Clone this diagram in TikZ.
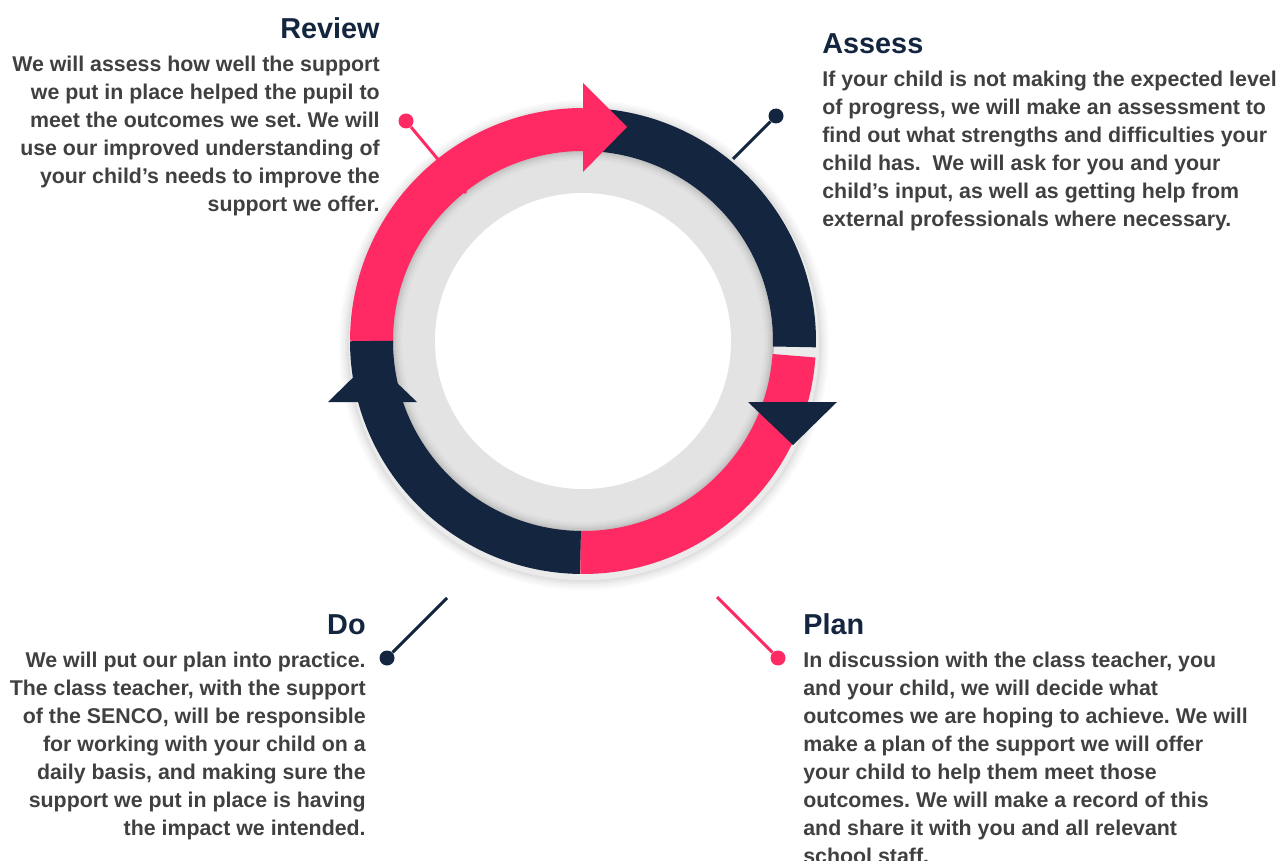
\documentclass[tikz,border=0pt]{standalone}
\usepackage{fontspec}
\setmainfont{Liberation Sans}
\usepackage{xcolor}
\usepackage{tikz}
\usetikzlibrary{positioning}

\definecolor{pinkred}{HTML}{FF2A63}
\definecolor{navy}{HTML}{14253F}
\definecolor{bodygray}{HTML}{404040}

\tikzset{
  head/.style={font=\fontsize{16.4}{19}\selectfont\bfseries, text=navy, inner sep=0pt},
  body/.style={font=\fontsize{12.15}{15.9}\selectfont\bfseries\frenchspacing, text=bodygray, inner sep=0pt},
  band/.style={line width=0.86cm},
  pindot/.style={circle, inner sep=0pt, minimum size=0.3cm},
  pinline/.style={line width=1.7pt},
}

\begin{document}
\begin{tikzpicture}[x=0.02cm, y=0.02cm]
    \useasboundingbox (0,0) rectangle (1277,-861);
    \clip (0,0) rectangle (1277,-861);
    \coordinate (c) at (583,-341);
    \coordinate (cs) at (584,-345);

    % RING: SHADOW AND GREY
    \foreach \r/\s in {245/2, 243/4, 241/6, 239/9, 237/12, 235/8}
        \fill[black!\s] (cs) circle[radius=\r];
    \foreach \r/\s in {191/26, 189/22, 187/18, 185/15, 183/13, 181/11}
        \fill[black!\s] (c) circle[radius=\r];
    \fill[white] (c) circle[radius=148];

    % REVIEW PIN (under the ring)
    \node (reviewdot) [pindot, fill=pinkred] at (406,-121) {};
    \coordinate (reviewend) at (466,-193);
    \draw[pinline, pinkred] (reviewdot) -- (reviewend);

    % RING: BANDS AND ARROWHEADS
    \draw[band, navy] (c) ++(90:211.5) arc[start angle=90, end angle=-1.6, radius=211.5];
    \draw[band, pinkred] (c) ++(180:211.5) arc[start angle=180, end angle=90, radius=211.5];
    \fill[pinkred] (583,-83) -- (627,-127) -- (583,-172) -- cycle;
    \draw[band, pinkred] (c) ++(-4:211.5) arc[start angle=-4, end angle=-90.7, radius=211.5];
    \fill[navy] (748,-402) -- (837,-402) -- (793,-445) -- cycle;
    \draw[band, navy] (c) ++(-90.7:211.5) arc[start angle=-90.7, end angle=-180, radius=211.5];
    \fill[navy] (328,-402) -- (417,-402) -- (372,-359) -- cycle;

    % OTHER PINS
    \node (assessdot) [pindot, fill=navy] at (776,-116) {};
    \coordinate (assessend) at (733,-159);
    \draw[pinline, navy] (assessdot) -- (assessend);
    \node (dodot) [pindot, fill=navy] at (387,-658) {};
    \coordinate (doend) at (447,-598);
    \draw[pinline, navy] (dodot) -- (doend);
    \node (plandot) [pindot, fill=pinkred] at (778,-658) {};
    \coordinate (planend) at (717,-597);
    \draw[pinline, pinkred] (plandot) -- (planend);

    % TOP LEFT: REVIEW
    \node (reviewhead) [head, anchor=north east] at (380,-17) {Review};
    \node (reviewtext) [body, align=right, below=0.34cm of reviewhead.south east, anchor=north east]
        {We will assess how well the support\\
         we put in place helped the pupil to\\
         meet the outcomes we set. We will\\
         use our improved understanding of\\
         your child’s needs to improve the\\
         support we offer.};

    % TOP RIGHT: ASSESS
    \node (assesshead) [head, anchor=north west] at (822,-33) {Assess};
    \node (assesstext) [body, align=left, below=0.34cm of assesshead.south west, anchor=north west]
        {If your child is not making the expected level\\
         of progress, we will make an assessment to\\
         find out what strengths and difficulties your\\
         child has.\ \ We will ask for you and your\\
         child’s input, as well as getting help from\\
         external professionals where necessary.};

    % BOTTOM LEFT: DO
    \node (dohead) [head, anchor=north east] at (366,-614) {Do};
    \node (dotext) [body, align=right, below=0.34cm of dohead.south east, anchor=north east]
        {We will put our plan into practice.\\
         The class teacher, with the support\\
         of the SENCO, will be responsible\\
         for working with your child on a\\
         daily basis, and making sure the\\
         support we put in place is having\\
         the impact we intended.};

    % BOTTOM RIGHT: PLAN
    \node (planhead) [head, anchor=north west] at (803,-613) {Plan};
    \node (plantext) [body, align=left, below=0.34cm of planhead.south west, anchor=north west]
        {In discussion with the class teacher, you\\
         and your child, we will decide what\\
         outcomes we are hoping to achieve. We will\\
         make a plan of the support we will offer\\
         your child to help them meet those\\
         outcomes. We will make a record of this\\
         and share it with you and all relevant\\
         school staff.};
\end{tikzpicture}
\end{document}
